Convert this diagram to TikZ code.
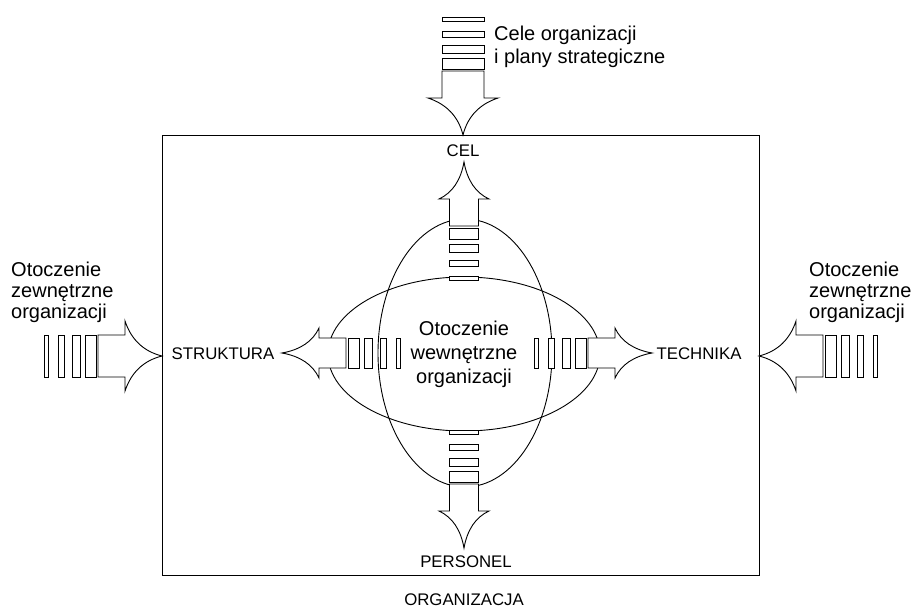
\documentclass[tikz,border=0pt]{standalone}
\usepackage{fontspec}
\setmainfont{Liberation Sans}

\tikzset{
    outline/.style={draw, line width=0.9pt, fill=white},
    bigtext/.style={font=\fontsize{20}{21}\selectfont, inner sep=0pt},
    smalltext/.style={font=\fontsize{16.8}{19}\selectfont, inner sep=0pt},
}

% striped block arrow: tip point, angle, head half width, shaft half width
\newcommand{\stripedarrow}[4]{%
    \begin{scope}[shift={#1}, rotate=#2]
        \draw[outline] (-64,-#4) -- (-37,-#4) -- (-37,-#3)
            .. controls (-30.8,-0.467*#3) and (-18.5,-0.133*#3) .. (0,0)
            .. controls (-18.5,0.133*#3) and (-30.8,0.467*#3) .. (-37,#3)
            -- (-37,#4) -- (-64,#4) -- cycle;
        \foreach \a/\b in {-77/-66,-90/-82,-104/-98,-118/-114}
            \draw[outline] (\a,-#4) rectangle (\b,#4);
    \end{scope}}

\begin{document}
\begin{tikzpicture}[x=1pt, y=-1pt]
    \useasboundingbox (0,0) rectangle (917,612);

    % organisation frame
    \draw[line width=0.9pt] (162,135) rectangle (759,575);

    % inner environment
    \draw[line width=0.9pt] (465,353) ellipse [x radius=87, y radius=134];
    \draw[line width=0.9pt] (464,354) ellipse [x radius=136, y radius=77];

    % outer arrows
    \stripedarrow{(463,135)}{-90}{35}{21}
    \stripedarrow{(162,356)}{0}{35}{21}
    \stripedarrow{(759,356)}{180}{35}{21}

    % inner arrows
    \stripedarrow{(464,162)}{90}{25}{14.5}
    \stripedarrow{(464,548)}{-90}{25}{14.5}
    \stripedarrow{(282,353)}{180}{25}{15}
    \stripedarrow{(652,353)}{0}{25}{15}

    % labels
    \node[bigtext, align=left, anchor=west, font=\fontsize{20}{23}\selectfont] (goals) at (494,47) {Cele organizacji\\i plany strategiczne};
    \node[bigtext, align=left, anchor=west] (outleft) at (11,292) {Otoczenie\\zewnętrzne\\organizacji};
    \node[bigtext, align=left, anchor=west] (outright) at (809,292) {Otoczenie\\zewnętrzne\\organizacji};
    \node[bigtext, align=center, font=\fontsize{20}{24}\selectfont] (inner) at (464,354) {Otoczenie\\wewnętrzne\\organizacji};

    \node[smalltext] (cel) at (463,151) {CEL};
    \node[smalltext] (personel) at (466,562) {PERSONEL};
    \node[smalltext] (struktura) at (223,354) {STRUKTURA};
    \node[smalltext] (technika) at (699,354) {TECHNIKA};
    \node[smalltext] (org) at (464,600) {ORGANIZACJA};

\end{tikzpicture}
\end{document}
